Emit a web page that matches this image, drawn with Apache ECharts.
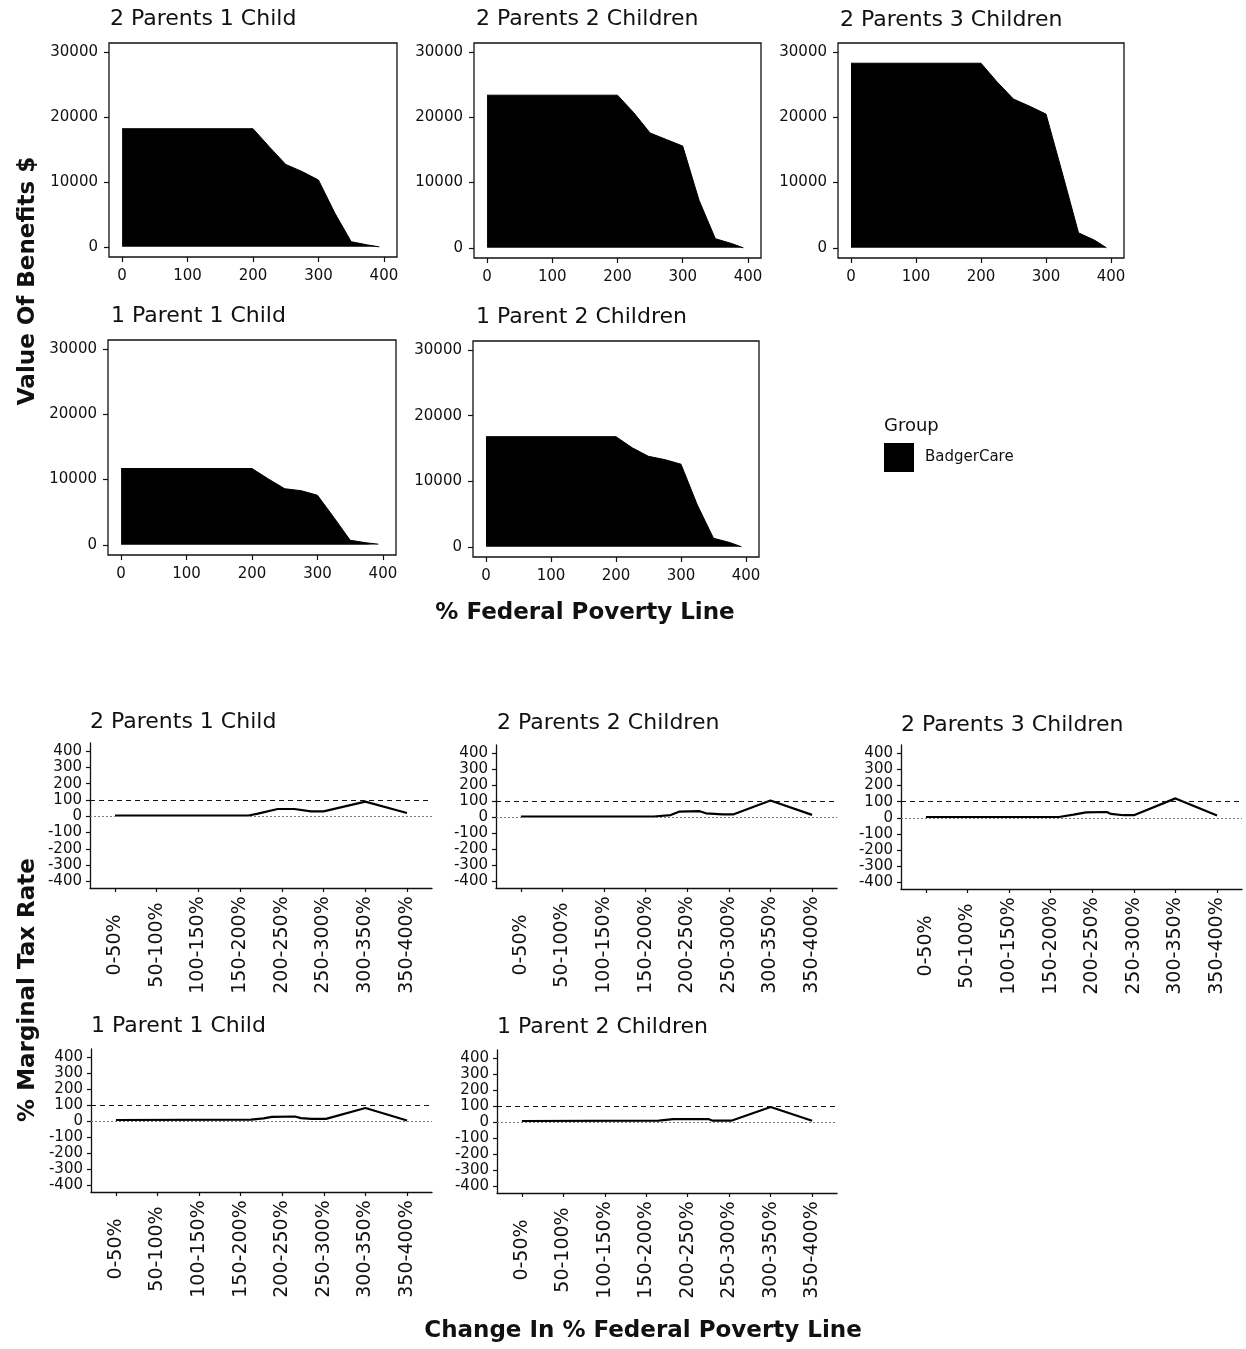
<!DOCTYPE html>
<html>
<head>
<meta charset="utf-8">
<script src="https://cdn.jsdelivr.net/npm/echarts@6/dist/echarts.min.js"></script>
<style>
html,body{margin:0;padding:0;background:#fff;}
#chart{width:1246px;height:1349px;}
</style>
</head>
<body>
<div id="chart"></div>
<script>
// ---------- data ----------
const panelTitles = ['2 Parents 1 Child', '2 Parents 2 Children', '2 Parents 3 Children', '1 Parent 1 Child', '1 Parent 2 Children'];

// Value of benefits ($) by % federal poverty line
const benX = [0, 200, 225, 250, 275, 300, 325, 350, 375, 393];
const ben2P1C = [18200, 18200, 15400, 12700, 11600, 10300, 5200, 800, 300, 0];
const ben2P2C = [23400, 23400, 20700, 17600, 16600, 15600, 7300, 1400, 650, 0];
const ben2P3C = [28300, 28300, 25400, 22800, 21700, 20500, 11500, 2300, 1150, 0];
const ben1P1C = [11700, 11700, 10100, 8600, 8300, 7600, 4200, 700, 300, 100];
const ben1P2C = [16800, 16800, 15100, 13800, 13300, 12600, 6400, 1300, 650, 0];
const benXTicks = [0, 100, 200, 300, 400];
const benYTicks = [0, 10000, 20000, 30000];

// Marginal tax rate (%) by change in % FPL (x in category-index units)
const catLabels = ['0-50%', '50-100%', '100-150%', '150-200%', '200-250%', '250-300%', '300-350%', '350-400%'];
const catTicks = [0, 1, 2, 3, 4, 5, 6, 7];
const mtrX2P1C = [0, 3.2, 3.4, 3.9, 4.3, 4.7, 5.0, 6.0, 7.0];
const mtrY2P1C = [5, 5, 15, 45, 45, 30, 30, 90, 20];
const mtrX2P2C = [0, 3.2, 3.6, 3.8, 4.3, 4.45, 4.85, 5.1, 6.0, 7.0];
const mtrY2P2C = [5, 5, 14, 35, 38, 25, 18, 18, 105, 15];
const mtrX2P3C = [0, 3.2, 3.55, 3.85, 4.35, 4.45, 4.75, 5.0, 6.0, 7.0];
const mtrY2P3C = [5, 5, 20, 34, 36, 24, 16, 16, 120, 14];
const mtrX1P1C = [0, 3.25, 3.55, 3.75, 4.3, 4.45, 4.7, 5.05, 6.0, 7.0];
const mtrY1P1C = [8, 10, 18, 28, 30, 20, 15, 15, 83, 5];
const mtrX1P2C = [0, 3.3, 3.65, 4.5, 4.6, 5.05, 6.0, 7.0];
const mtrY1P2C = [8, 10, 20, 20, 10, 10, 95, 10];
const mtrYTicks = [-400, -300, -200, -100, 0, 100, 200, 300, 400];
const refLines = [100, 0];

const benSeries = [ben2P1C, ben2P2C, ben2P3C, ben1P1C, ben1P2C];
const mtrXs = [mtrX2P1C, mtrX2P2C, mtrX2P3C, mtrX1P1C, mtrX1P2C];
const mtrYs = [mtrY2P1C, mtrY2P2C, mtrY2P3C, mtrY1P1C, mtrY1P2C];

// ---------- layout ----------
const FONT = '"DejaVu Sans", sans-serif';
const topGrids = [
  {left: 109, top: 43, width: 288, height: 214},
  {left: 474, top: 43, width: 287, height: 215},
  {left: 838, top: 43, width: 286, height: 215},
  {left: 108, top: 340, width: 288, height: 215},
  {left: 473, top: 341, width: 286, height: 216}
];
const botGrids = [
  {left: 90, top: 743, width: 342, height: 145},
  {left: 496, top: 745, width: 341, height: 143},
  {left: 901, top: 745, width: 341, height: 144},
  {left: 91, top: 1049, width: 341, height: 143},
  {left: 497, top: 1050, width: 340, height: 143}
];
const topTitlePos = [[110, 19], [476, 19], [840, 20], [111, 316], [476, 317]];
const botTitlePos = [[90, 722], [497, 723], [901, 725], [91, 1026], [497, 1027]];

const grid = [], xAxis = [], yAxis = [], series = [], graphic = [];
const tickStyle = {color: '#111', width: 1.2};
const labelColor = '#111';
const plain = v => String(v);

topGrids.forEach((g, i) => {
  grid.push(Object.assign({show: true, borderColor: '#111', borderWidth: 1.3, backgroundColor: '#fff'}, g));
  xAxis.push({
    type: 'value', gridIndex: i, min: -20, max: 420,
    splitLine: {show: false}, axisLine: {show: false, onZero: false},
    axisTick: {show: true, length: 5, lineStyle: tickStyle, customValues: benXTicks},
    axisLabel: {customValues: benXTicks, margin: 12, fontSize: 15, fontFamily: FONT, color: labelColor, formatter: plain}
  });
  yAxis.push({
    type: 'value', gridIndex: i, min: -1560, max: 31400,
    splitLine: {show: false}, axisLine: {show: false, onZero: false},
    axisTick: {show: true, length: 5, lineStyle: tickStyle, customValues: benYTicks},
    axisLabel: {customValues: benYTicks, margin: 11, fontSize: 15, fontFamily: FONT, color: labelColor, formatter: plain}
  });
  series.push({
    name: 'BadgerCare', type: 'line', xAxisIndex: i, yAxisIndex: i,
    data: benX.map((x, k) => [x, benSeries[i][k]]),
    symbol: 'none', silent: true, animation: false,
    lineStyle: {color: '#000', width: 1},
    itemStyle: {color: '#000'},
    areaStyle: {color: '#000', opacity: 1}
  });
  graphic.push({type: 'text', x: topTitlePos[i][0], y: topTitlePos[i][1],
    style: {text: panelTitles[i], fill: '#111', font: '22px ' + FONT, align: 'left', verticalAlign: 'middle'}});
});

botGrids.forEach((g, j) => {
  const i = j + 5;
  grid.push(Object.assign({show: false}, g));
  xAxis.push({
    type: 'value', gridIndex: i, min: -0.6, max: 7.6,
    splitLine: {show: false},
    axisLine: {show: true, onZero: false, lineStyle: {color: '#111', width: 1.3}},
    axisTick: {show: true, length: 4, lineStyle: tickStyle, customValues: catTicks},
    axisLabel: {customValues: catTicks, rotate: 90, margin: 57, align: 'center', verticalAlign: 'middle',
      fontSize: 19, fontFamily: FONT, color: labelColor,
      formatter: v => catLabels[Math.round(v)]}
  });
  yAxis.push({
    type: 'value', gridIndex: i, min: -440, max: 450,
    splitLine: {show: false},
    axisLine: {show: true, onZero: false, lineStyle: {color: '#111', width: 1.3}},
    axisTick: {show: true, length: 4, lineStyle: tickStyle, customValues: mtrYTicks},
    axisLabel: {customValues: mtrYTicks, margin: 8, fontSize: 15, fontFamily: FONT, color: labelColor, formatter: plain}
  });
  series.push({
    name: 'MTR', type: 'line', xAxisIndex: i, yAxisIndex: i,
    data: mtrXs[j].map((x, k) => [x, mtrYs[j][k]]),
    symbol: 'none', silent: true, animation: false,
    lineStyle: {color: '#000', width: 2.2},
    markLine: {
      silent: true, symbol: 'none', animation: false, label: {show: false},
      data: [
        {yAxis: refLines[0], lineStyle: {type: [5, 4], color: '#111', width: 1.2}},
        {yAxis: refLines[1], lineStyle: {type: [2, 2], color: '#777', width: 1}}
      ]
    }
  });
  graphic.push({type: 'text', x: botTitlePos[j][0], y: botTitlePos[j][1],
    style: {text: panelTitles[j], fill: '#111', font: '22px ' + FONT, align: 'left', verticalAlign: 'middle'}});
});

// axis titles
graphic.push({type: 'text', x: 28, y: 281, rotation: Math.PI / 2,
  style: {text: 'Value Of Benefits $', fill: '#111', font: 'bold 23px ' + FONT, align: 'center', verticalAlign: 'middle'}});
graphic.push({type: 'text', x: 585, y: 613,
  style: {text: '% Federal Poverty Line', fill: '#111', font: 'bold 23px ' + FONT, align: 'center', verticalAlign: 'middle'}});
graphic.push({type: 'text', x: 28, y: 990, rotation: Math.PI / 2,
  style: {text: '% Marginal Tax Rate', fill: '#111', font: 'bold 23px ' + FONT, align: 'center', verticalAlign: 'middle'}});
graphic.push({type: 'text', x: 643, y: 1331,
  style: {text: 'Change In % Federal Poverty Line', fill: '#111', font: 'bold 23px ' + FONT, align: 'center', verticalAlign: 'middle'}});
// legend title
graphic.push({type: 'text', x: 884, y: 426,
  style: {text: 'Group', fill: '#111', font: '18px ' + FONT, align: 'left', verticalAlign: 'middle'}});

const chart = echarts.init(document.getElementById('chart'), null, {renderer: 'canvas'});
chart.setOption({
  animation: false,
  backgroundColor: '#fff',
  legend: {
    data: [{name: 'BadgerCare', icon: 'rect'}],
    left: 884, top: 443, padding: 0,
    itemWidth: 30, itemHeight: 29, itemGap: 0,
    selectedMode: false,
    textStyle: {fontSize: 15, fontFamily: FONT, color: '#111', padding: [0, 0, 0, 6]}
  },
  grid, xAxis, yAxis, series, graphic
});
</script>
</body>
</html>
